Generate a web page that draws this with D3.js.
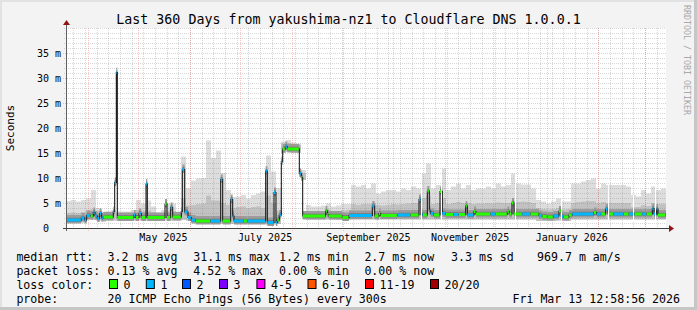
<!DOCTYPE html>
<html><head><meta charset="utf-8">
<script src="https://cdn.jsdelivr.net/npm/d3@7"></script>
<style>
html,body{margin:0;padding:0;background:#f3f3f3;}
svg{display:block;}
text{font-family:"DejaVu Sans Mono",monospace;fill:#000;}
</style></head><body>
<svg id="c" width="697" height="310"></svg>
<script>
// ---------------- data ----------------
const title = "Last 360 Days from yakushima-nz1 to Cloudflare DNS 1.0.0.1";
const yAxisTitle = "Seconds";
const watermark = "RRDTOOL / TOBI OETIKER";
const startTime = Date.UTC(2025, 2, 18, 12, 58, 56);
const endTime = Date.UTC(2026, 2, 13, 12, 58, 56);
const yTickValues = [0, 5, 10, 15, 20, 25, 30, 35];          // ms
const yTickLabels = ["0", "5 m", "10 m", "15 m", "20 m", "25 m", "30 m", "35 m"];
const xLabelDates = [Date.UTC(2025,4,1), Date.UTC(2025,6,1), Date.UTC(2025,8,1), Date.UTC(2025,10,1), Date.UTC(2026,0,1)];
const xLabels = ["May 2025", "July 2025", "September 2025", "November 2025", "January 2026"];

// smoke (ms), one value per 3-day bin from the start
const smokeBinDays = 3;
const smokeMax = [5.4,5.6,5.3,5.6,5.9,7.6,4.0,3.3,3.4,3.6,
  3.3,3.3,3.3,3.6,5.6,4.9,5.5,4.3,3.1,3.6,
  4.9,4.9,3.3,14.3,8.0,9.5,9.9,10.0,17.5,14.0,
  15.5,11.0,7.6,6.2,6.3,6.6,5.9,6.6,6.9,7.3,
  14.5,11.3,8.0,17.3,17.6,17.1,16.9,11.6,4.6,4.3,
  4.3,4.5,4.9,4.3,4.5,4.8,4.8,8.6,8.3,8.6,
  7.9,8.9,6.9,7.3,7.6,7.6,7.3,7.9,7.6,8.3,
  7.9,10.9,12.9,7.9,8.6,11.9,7.6,8.3,8.9,7.9,
  8.6,7.6,7.9,7.9,8.3,7.9,8.9,8.3,8.6,10.9,
  8.9,8.7,8.7,7.9,5.6,5.3,4.9,5.3,5.9,5.3,
  5.3,8.9,8.9,9.3,9.6,9.9,7.9,8.9,8.6,8.6,
  8.6,8.6,8.3,6.6,6.3,7.6,6.9,8.3,7.6,7.9];
const smokeMid = [3.0,3.1,3.0,3.2,3.6,3.8,3.4,3.1,3.0,3.2,
  2.9,2.9,2.9,3.0,3.6,3.4,3.5,3.1,2.8,3.0,
  3.5,3.4,2.9,6.0,4.5,4.6,4.8,4.9,6.5,5.5,
  5.5,5.0,4.6,4.0,4.2,4.3,4.0,4.2,4.3,4.0,
  6.5,5.0,3.5,16.9,17.0,16.8,16.6,11.0,3.3,3.3,
  3.4,3.4,3.6,3.4,3.3,3.5,3.6,4.8,4.6,4.8,
  4.8,5.0,4.6,4.5,4.6,4.8,4.7,4.8,4.9,5.0,
  5.0,6.0,6.5,4.8,5.0,6.0,4.8,5.0,5.2,5.0,
  5.0,4.8,4.9,4.9,5.0,4.9,5.1,5.0,5.0,5.5,
  5.2,5.3,5.2,5.0,4.0,3.8,3.7,3.8,4.0,3.7,
  3.8,5.0,5.2,5.3,5.4,5.4,5.0,5.2,5.0,5.0,
  5.0,5.0,5.0,4.2,4.2,4.6,4.4,5.0,4.8,4.8];
const smokeMin = [1.0,1.0,1.0,1.1,1.6,1.6,1.5,1.3,1.5,1.5,
  1.5,1.5,1.5,1.5,1.5,1.5,1.5,1.5,1.5,1.5,
  1.5,1.5,1.5,1.6,1.5,1.3,0.8,0.8,0.8,0.8,
  0.8,0.8,0.8,0.8,0.8,0.8,0.8,0.8,0.8,0.8,
  0.7,0.7,0.8,15.0,15.2,15.0,15.0,9.6,1.7,1.7,
  1.7,1.7,1.7,1.7,1.6,1.6,1.6,1.7,1.7,1.7,
  1.7,1.7,1.7,1.7,1.7,1.7,1.7,1.7,1.7,1.7,
  1.7,1.7,1.7,1.7,1.7,1.7,1.7,1.7,1.7,1.7,
  1.7,1.7,1.7,1.7,1.7,1.7,1.7,1.7,1.7,1.7,
  1.7,1.7,1.7,1.7,1.4,1.4,1.4,1.4,1.5,1.4,
  1.4,1.7,1.7,1.7,1.7,1.7,1.7,1.7,1.7,1.7,
  1.7,1.7,1.7,1.7,1.7,1.7,1.7,1.7,1.7,1.7];

// median rtt (ms) as steps: start day, value, lost pings
const medDay = [0,9.2,11.2,12.4,14.8,16.4,17.4,18.8,20.2,21.4,22.4,28.4,29.2,30.2,30.8,40.8,41.8,43.8,45.2,48.0,
  48.8,59.4,60.6,62.8,64.0,69.2,69.8,71.2,73.2,75.2,77.8,86.8,92.8,94.0,98.8,100.0,100.8,106.8,108.8,119.8,
  120.8,124.8,126.0,126.8,128.0,129.2,130.0,131.6,132.8,140.0,141.2,142.0,155.8,156.8,157.8,165.8,169.8,183.8,185.2,187.8,
  188.8,198.8,206.8,211.8,213.0,214.2,216.8,218.0,218.8,220.8,224.4,225.8,227.8,232.8,235.8,239.8,240.8,244.8,246.0,254.8,
  257.8,264.8,266.0,267.6,268.8,273.8,278.8,283.8,285.8,288.8,292.4,295.8,297.2,298.8,301.8,303.8,316.8,318.4,321.2,323.8,
  325.2,328.8,334.8,337.8,341.2,345.8,348.4,351.8,352.8,354.4,355.2];
const medVal = [1.6,2.0,1.6,2.5,2.4,3.1,2.4,1.9,2.9,2.0,2.2,3.3,9.1,31.1,2.1,2.6,2.1,2.9,2.1,8.8,
  2.1,4.8,2.1,4.1,2.2,3.3,11.7,3.2,2.1,1.6,1.4,1.4,9.7,1.4,5.7,2.4,1.4,1.4,1.4,11.4,
  1.1,7.1,1.1,1.6,2.6,13.3,15.8,16.3,15.8,10.9,10.1,2.4,3.4,2.7,2.4,2.1,2.5,4.4,2.4,2.9,
  2.5,2.6,2.6,5.7,2.7,2.6,7.4,3.4,2.9,2.6,7.3,2.9,2.7,2.7,2.7,4.4,2.6,3.3,2.8,2.8,
  2.8,3.3,2.8,5.0,2.8,2.8,2.8,2.5,2.3,2.2,2.4,3.4,2.3,2.2,2.6,2.8,3.1,2.8,2.8,3.8,
  2.8,2.8,2.8,2.8,2.8,2.8,2.8,3.9,2.8,3.8,2.6];
const medLoss = [1,1,1,1,0,1,1,1,1,1,0,1,1,1,0,1,0,1,0,1,
  0,0,0,1,0,1,1,1,1,1,0,1,1,0,1,1,1,0,1,1,
  1,1,1,0,1,1,0,1,0,1,0,0,0,0,0,0,1,1,0,0,
  0,1,0,1,1,0,0,1,1,0,0,1,0,1,0,0,1,0,0,1,
  0,0,0,0,0,1,0,1,0,0,1,0,1,0,0,1,0,1,0,1,
  0,1,0,1,0,1,0,1,1,1,0];
const gapDays = [213.2, 225.2, 269.4, 296.8, 325.2, 340.4, 353.2];

const lossLabels = ["0", "1", "2", "3", "4-5", "6-10", "11-19", "20/20"];
const lossColors = ["#26ff00", "#00b8ff", "#0059ff", "#7e00ff", "#ff00ff", "#ff5500", "#ff0000", "#a00000"];
const rttStats = ["3.2 ms avg", "31.1 ms max", "1.2 ms min", "2.7 ms now", "3.3 ms sd", "969.7 m am/s"];
const lossStats = ["0.13 % avg", "4.52 % max", "0.00 % min", "0.00 % now"];
const probeText = "20 ICMP Echo Pings (56 Bytes) every 300s";
const stampText = "Fri Mar 13 12:58:56 2026";

// ---------------- drawing ----------------
const DAY = 86400000;
const T = d => new Date(startTime + d * DAY);
const svg = d3.select("#c");
const W = 697, H = 310;
const x = d3.scaleUtc().domain([new Date(startTime), new Date(endTime)]).range([66, 666]);
const y = d3.scaleLinear().domain([0, 40]).range([228, 28]);

// background + frame shading
svg.append("rect").attr("width", W).attr("height", H).attr("fill", "#f3f3f3");
svg.append("rect").attr("x", 0).attr("y", 0).attr("width", W).attr("height", 2).attr("fill", "#e2e2e2");
svg.append("rect").attr("x", 0).attr("y", 0).attr("width", 2).attr("height", H).attr("fill", "#e2e2e2");
svg.append("rect").attr("x", 0).attr("y", H - 3).attr("width", W).attr("height", 3).attr("fill", "#c6c6c6");
svg.append("rect").attr("x", W - 3).attr("y", 0).attr("width", 3).attr("height", H).attr("fill", "#c6c6c6");

// canvas
svg.append("rect").attr("x", 66).attr("y", 28).attr("width", 600).attr("height", 200).attr("fill", "#ffffff");

// smoke
const bins = smokeMax.map((v, k) => ({ t: T(k * smokeBinDays), max: v, mid: smokeMid[k], min: smokeMin[k] }));
bins.push({ t: T(360), max: smokeMax[smokeMax.length - 1], mid: smokeMid[smokeMid.length - 1], min: smokeMin[smokeMin.length - 1] });
const area = (lo, hi) => d3.area().x(d => x(d.t)).y0(d => y(d[lo])).y1(d => y(d[hi])).curve(d3.curveStepAfter);
svg.append("path").datum(bins).attr("d", area("min", "max")).attr("fill", "#dddddd");
svg.append("path").datum(bins).attr("d", area("min", "mid")).attr("fill", "#c2c2c2");

// median segments
const segs = medDay.map((d, i) => ({ d0: d, d1: i < medDay.length - 1 ? medDay[i + 1] : 360, v: medVal[i], loss: medLoss[i] }));
const gSm = svg.append("g");
gSm.selectAll("rect.a").data(segs).join("rect")
  .attr("x", s => x(T(s.d0))).attr("width", s => x(T(s.d1)) - x(T(s.d0)))
  .attr("y", s => y(s.v + 1.0)).attr("height", s => y(s.v - 0.7) - y(s.v + 1.0))
  .attr("fill", "#9c9c9c");
gSm.selectAll("rect.b").data(segs).join("rect")
  .attr("x", s => x(T(s.d0))).attr("width", s => x(T(s.d1)) - x(T(s.d0)))
  .attr("y", s => y(s.v + 0.45)).attr("height", s => y(s.v - 0.35) - y(s.v + 0.45))
  .attr("fill", "#747474");

// grid
const grid = svg.append("g").attr("shape-rendering", "crispEdges").attr("stroke-dasharray", "1,1");
const minorC = "rgba(140,140,140,0.36)", majorC = "rgba(255,70,70,0.32)";
for (let v = 1; v <= 40; v++) {
  if (v % 5 === 0 && v < 40) continue;
  grid.append("line").attr("x1", 64).attr("x2", 666).attr("y1", Math.round(y(v)) + 0.5).attr("y2", Math.round(y(v)) + 0.5).attr("stroke", minorC);
}
const weeks = d3.utcSunday.range(new Date(startTime), new Date(endTime));
weeks.forEach(w => {
  const px = Math.round(x(w)) + 0.5;
  grid.append("line").attr("x1", px).attr("x2", px).attr("y1", 28).attr("y2", 230).attr("stroke", minorC);
});
yTickValues.filter(v => v > 0).forEach(v => {
  grid.append("line").attr("x1", 63).attr("x2", 666).attr("y1", Math.round(y(v)) + 0.5).attr("y2", Math.round(y(v)) + 0.5).attr("stroke", majorC);
});
d3.utcMonth.range(new Date(startTime), new Date(endTime)).forEach(m => {
  const px = Math.round(x(m)) + 0.5;
  grid.append("line").attr("x1", px).attr("x2", px).attr("y1", 28).attr("y2", 231).attr("stroke", majorC);
});

// median line + loss colour bands
const linePts = segs.map(s => [x(T(s.d0)), y(s.v)]);
linePts.push([x(T(360)), y(medVal[medVal.length - 1])]);
svg.append("path").attr("d", d3.line().curve(d3.curveStepAfter)(linePts))
  .attr("fill", "none").attr("stroke", "#1e1e1e").attr("stroke-width", 1.1);
svg.selectAll("rect.loss").data(segs).join("rect")
  .attr("x", s => x(T(s.d0))).attr("width", s => Math.max(0, x(T(s.d1)) - x(T(s.d0)) - 0.5))
  .attr("y", s => y(s.v) - 1.5).attr("height", 3)
  .attr("fill", s => lossColors[s.loss]);

// gaps (unknown data)
gapDays.forEach(g => {
  const k = Math.floor(g / smokeBinDays);
  svg.append("rect").attr("x", Math.round(x(T(g)))).attr("width", 1)
    .attr("y", y(smokeMax[k])).attr("height", y(smokeMin[k] - 0.3) - y(smokeMax[k])).attr("fill", "#ffffff");
});

// axes
svg.append("line").attr("x1", 66.5).attr("x2", 66.5).attr("y1", 231).attr("y2", 24).attr("stroke", "#606060");
svg.append("line").attr("x1", 63).attr("x2", 670).attr("y1", 228.5).attr("y2", 228.5).attr("stroke", "#404040");
svg.append("path").attr("d", "M63,25 L70,25 L66.5,20 Z").attr("fill", "#8e1616");
svg.append("path").attr("d", "M669,225 L669,232 L674,228.5 Z").attr("fill", "#8e1616");

// y labels
svg.selectAll("text.yl").data(yTickValues).join("text")
  .attr("x", (v, i) => v === 0 ? 49 : 61).attr("y", v => y(v) + 3.6)
  .attr("text-anchor", "end").attr("font-size", "10px").text((v, i) => yTickLabels[i]);
// x labels (centred mid-month)
svg.selectAll("text.xl").data(xLabelDates).join("text")
  .attr("x", d => x(new Date(d + 15 * DAY))).attr("y", 241)
  .attr("text-anchor", "middle").attr("font-size", "10px").text((d, i) => xLabels[i]);

// titles
svg.append("text").attr("x", 348.5).attr("y", 23.5).attr("text-anchor", "middle").attr("font-size", "13.3px").text(title);
svg.append("text").attr("transform", "translate(13.5,128) rotate(-90)").attr("text-anchor", "middle").attr("font-size", "11px").text(yAxisTitle);
svg.append("text").attr("transform", "translate(684,5) rotate(90)").attr("font-size", "8.3px").style("fill", "#a8a8a8").text(watermark);

// legend
const LF = "11.6px";
const rowY = [261, 275, 289, 303];
const statX = [107.6, 193.3, 279, 364.4, 451, 537];
svg.append("text").attr("x", 16.4).attr("y", rowY[0]).attr("font-size", LF).text("median rtt:");
rttStats.forEach((s, i) => svg.append("text").attr("x", statX[i]).attr("y", rowY[0]).attr("font-size", LF).text(s));
svg.append("text").attr("x", 16.4).attr("y", rowY[1]).attr("font-size", LF).text("packet loss:");
lossStats.forEach((s, i) => svg.append("text").attr("x", statX[i]).attr("y", rowY[1]).attr("font-size", LF).text(s));
svg.append("text").attr("x", 16.4).attr("y", rowY[2]).attr("font-size", LF).text("loss color:");
const boxX = [109, 145.8, 182, 219, 256.4, 307.5, 365, 430];
lossLabels.forEach((l, i) => {
  svg.append("rect").attr("x", boxX[i] + 0.5).attr("y", rowY[2] - 9.5).attr("width", 8).attr("height", 9)
    .attr("fill", lossColors[i]).attr("stroke", "#000").attr("stroke-width", 1);
  svg.append("text").attr("x", boxX[i] + 14.6).attr("y", rowY[2]).attr("font-size", LF).text(l);
});
svg.append("text").attr("x", 16.4).attr("y", rowY[3]).attr("font-size", LF).text("probe:");
svg.append("text").attr("x", 107.6).attr("y", rowY[3]).attr("font-size", LF).text(probeText);
svg.append("text").attr("x", 680).attr("y", rowY[3]).attr("text-anchor", "end").attr("font-size", LF).text(stampText);
</script>
</body></html>
